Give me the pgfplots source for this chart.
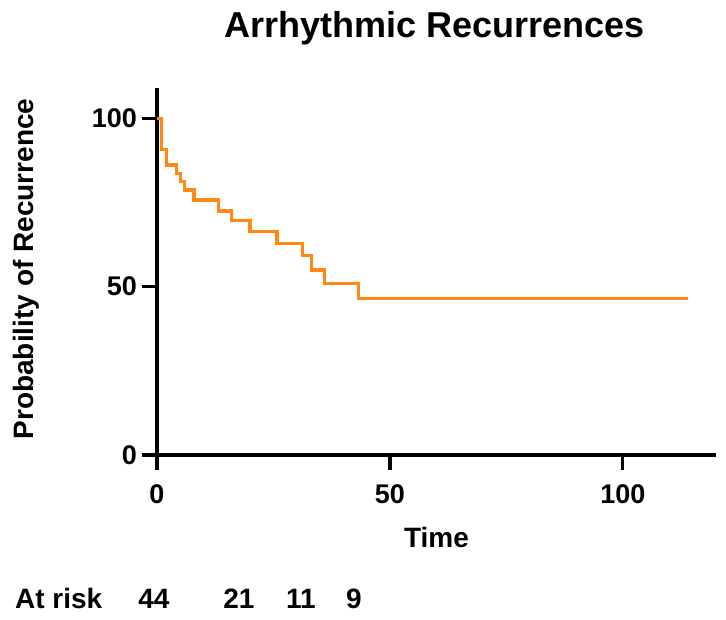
\documentclass[border=0pt]{standalone}
\usepackage{pgfplots}
\pgfplotsset{compat=1.18}
\usepackage{fontspec}
\setmainfont{Liberation Sans}
\definecolor{kmorange}{RGB}{255,137,20}
\newcommand{\fs}[1]{\fontsize{#1pt}{#1pt}\selectfont\bfseries}
\begin{document}
\begin{tikzpicture}[x=1pt,y=1pt]
\useasboundingbox (0,0) rectangle (726,619);
\begin{axis}[
  at={(157pt,164pt)}, anchor=south west,
  scale only axis, width=559pt, height=367pt,
  xmin=0, xmax=120, ymin=0, ymax=109,
  axis x line=bottom, axis y line=left,
  axis line style={-, line width=3.2pt, black},
  xtick={0,50,100}, ytick={0,50,100},
  tick align=outside, major tick length=15pt,
  major tick style={line width=3.2pt, black},
  /pgf/number format/assume math mode=true,
  tick label style={font=\fs{27}},
  yticklabel style={inner sep=3pt, xshift=-2pt},
  xticklabel style={inner sep=3pt, yshift=-11pt},
  clip=false,
]
\addplot[const plot, color=kmorange, line width=3.4pt, line join=miter] coordinates {
(0,100) (1.0,90.8) (2.1,86.1) (4.2,83.6) (5.1,81.2) (5.9,78.7) (7.9,75.7)
(13.2,72.5) (16.0,69.6) (20.0,66.3) (25.8,62.9) (31.2,59.2) (33.2,54.9)
(35.9,51.0) (43.2,46.5) (114,46.5)
};
\end{axis}
\node[anchor=base, font=\fs{36}] at (435,581) {Arrhythmic Recurrences};
\node[anchor=base, font=\fs{28}] at (436.5,71) {Time};
\node[anchor=base, rotate=90, font=\fs{28}] at (33,350) {Probability of Recurrence};
\node[anchor=base west, font=\fs{28}, inner sep=0pt] at (15,11) {At risk};
\node[anchor=base, font=\fs{28}, inner sep=0pt] at (154,11) {44};
\node[anchor=base, font=\fs{28}, inner sep=0pt] at (239,11) {21};
\node[anchor=base, font=\fs{28}, inner sep=0pt] at (301,11) {11};
\node[anchor=base, font=\fs{28}, inner sep=0pt] at (354,11) {9};
\end{tikzpicture}
\end{document}
